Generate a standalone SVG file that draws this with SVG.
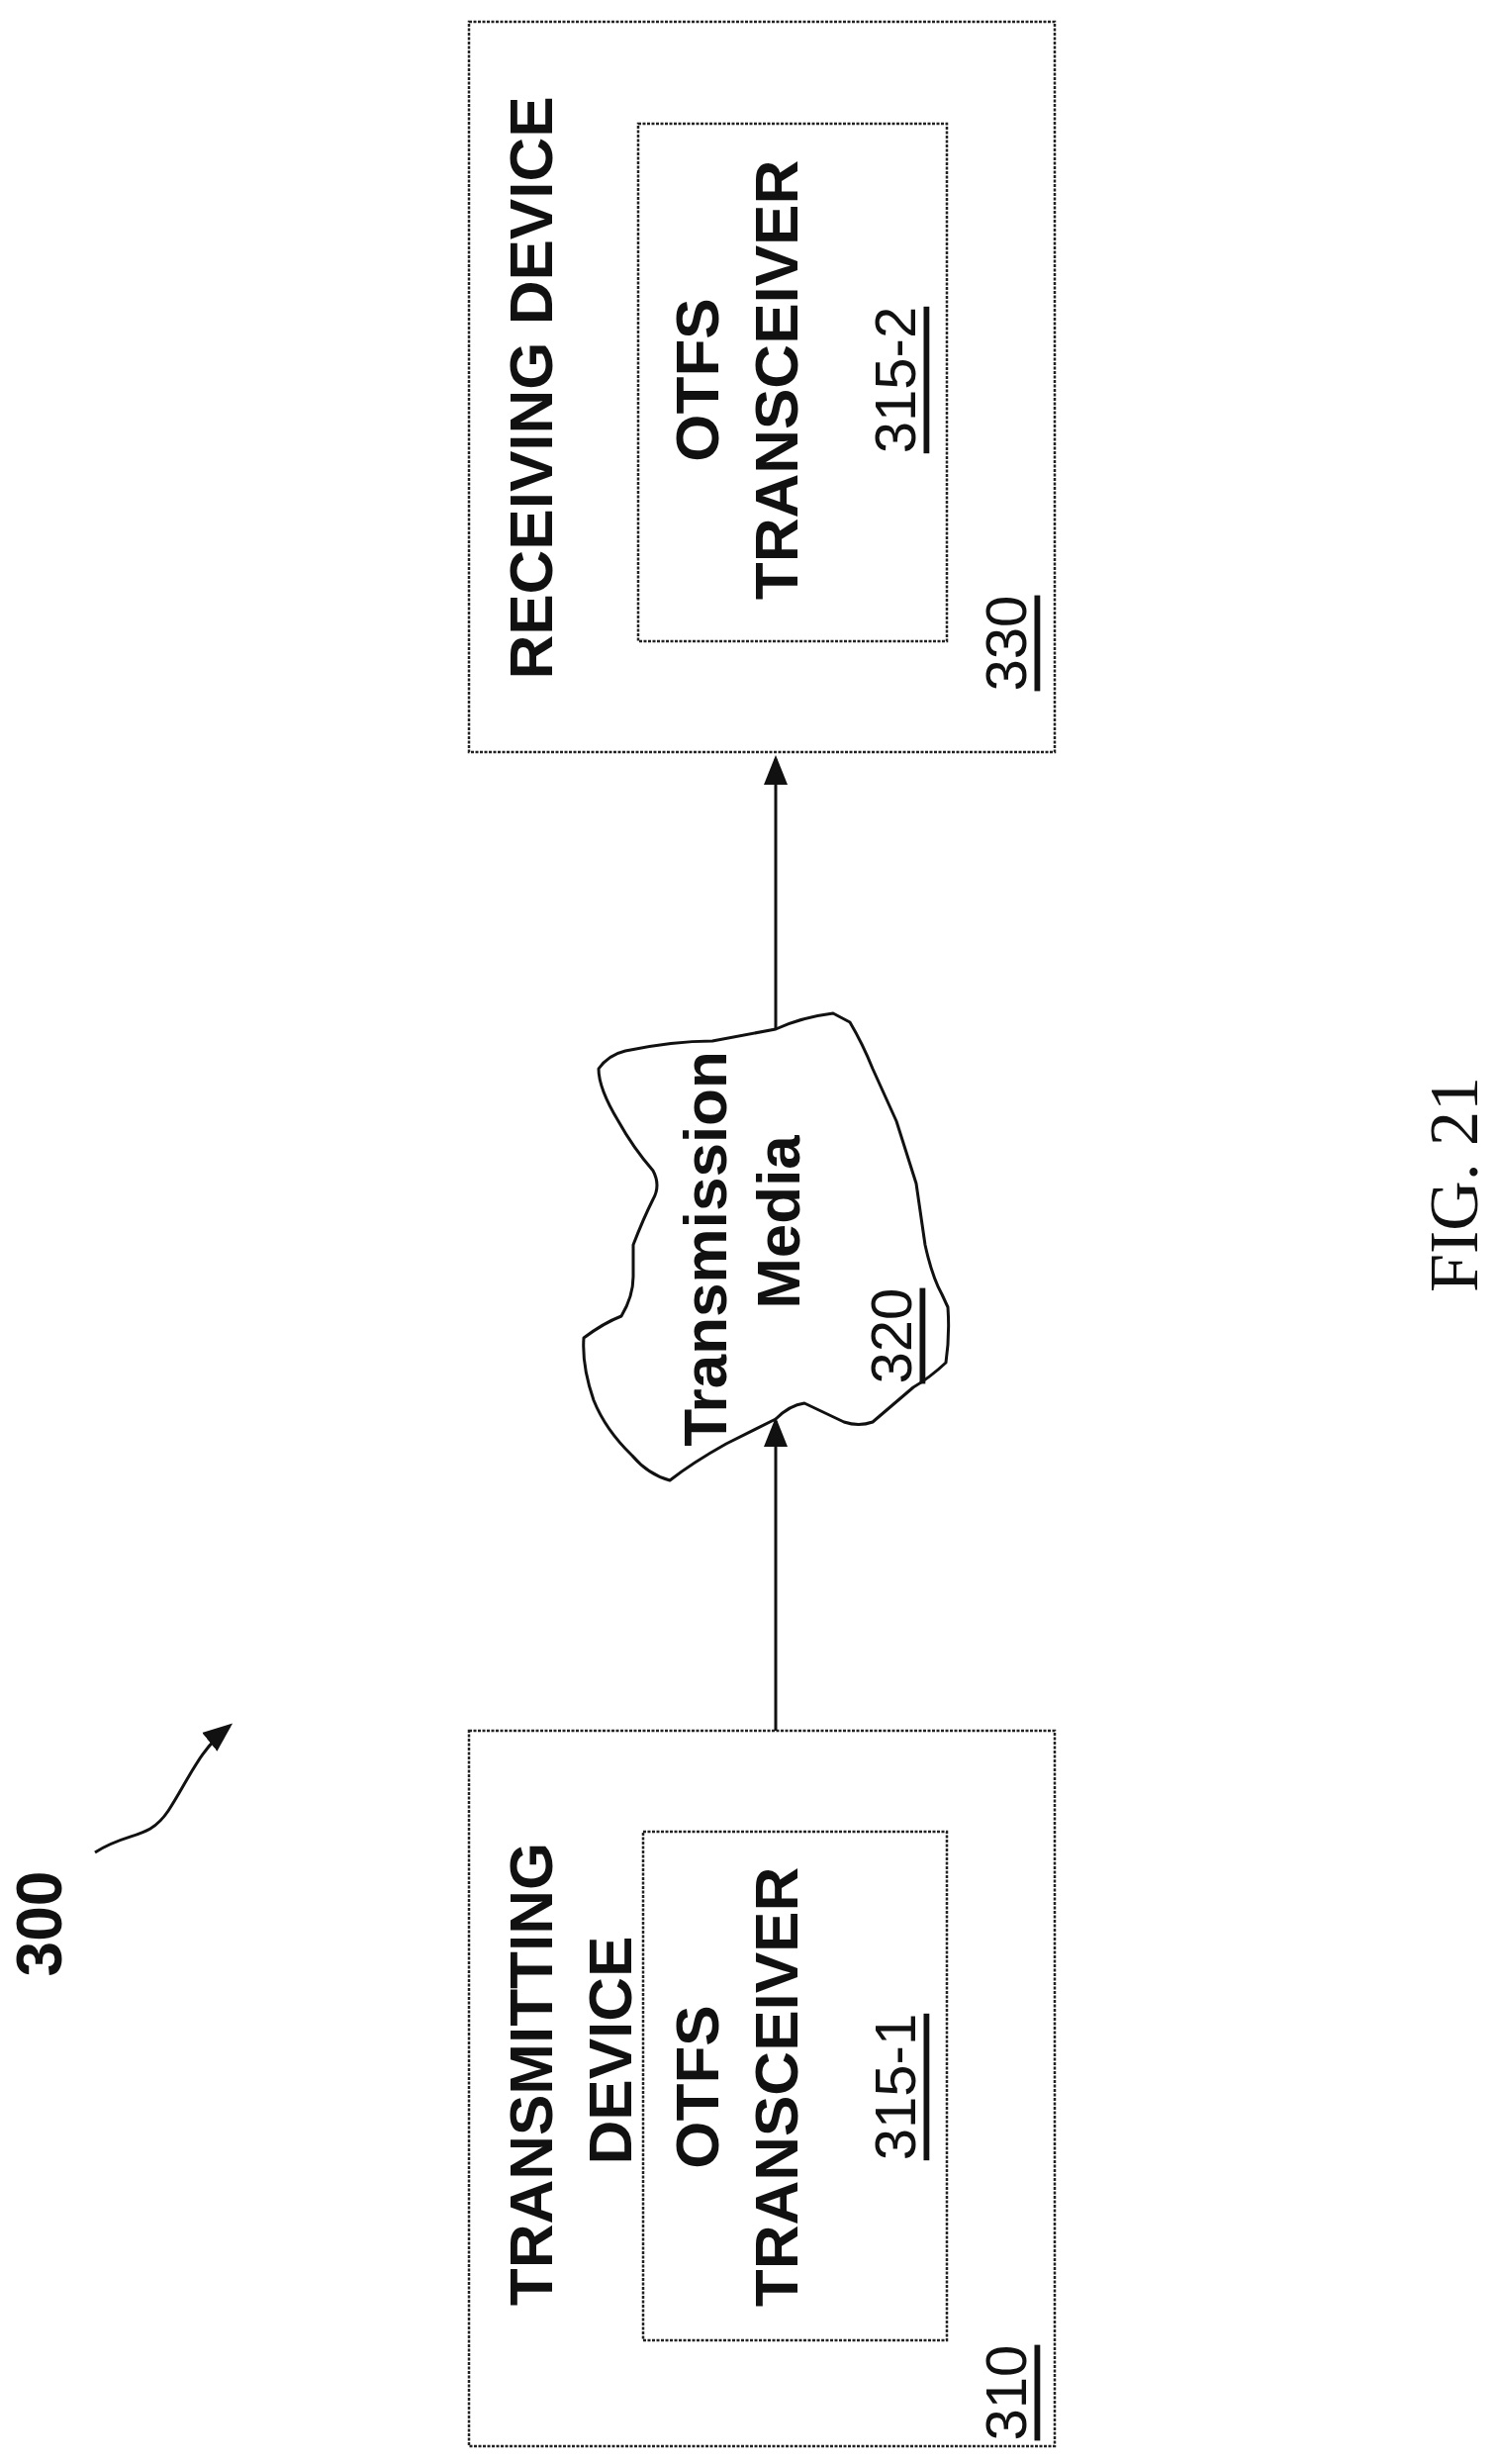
<svg xmlns="http://www.w3.org/2000/svg" width="1512" height="2490" viewBox="0 0 1512 2490">
<style>
.box{fill:none;stroke:#222;stroke-width:2.5;stroke-dasharray:3 1.5}
.t{font-family:"Liberation Sans",Arial,sans-serif;font-weight:bold;font-size:62px;fill:#111;text-anchor:middle;dominant-baseline:central}
.n{font-family:"Liberation Sans",Arial,sans-serif;font-size:58px;fill:#111;text-anchor:middle;dominant-baseline:central;text-decoration:underline}
.c{stroke:#111;stroke-width:3;fill:none}
</style>
<defs>
<marker id="ah2" markerWidth="30" markerHeight="30" refX="26" refY="15" orient="auto" markerUnits="userSpaceOnUse" viewBox="0 0 30 30"><path d="M0,3 L30,15 L0,27 z" fill="#111"/></marker></defs>
<rect width="1512" height="2490" fill="#fff"/>
<g id="tx310">
<rect class="box" x="474" y="1749" width="592" height="723"/>
<text class="t" transform="translate(536,2096) rotate(-90)">TRANSMITTING</text>
<text class="t" transform="translate(616,2072) rotate(-90)">DEVICE</text>
<text class="n" transform="translate(1016,2418) rotate(-90)">310</text>
</g>
<g id="otfs1">
<rect class="box" x="650" y="1851" width="307" height="514"/>
<text class="t" transform="translate(704,2109) rotate(-90)">OTFS</text>
<text class="t" transform="translate(784,2109) rotate(-90)">TRANSCEIVER</text>
<text class="n" transform="translate(904,2109) rotate(-90)">315-1</text>
</g>
<g id="rx330">
<rect class="box" x="474" y="22" width="592" height="738"/>
<text class="t" transform="translate(536,392) rotate(-90)">RECEIVING DEVICE</text>
<text class="n" transform="translate(1016,650) rotate(-90)">330</text>
</g>
<g id="otfs2">
<rect class="box" x="645" y="125" width="312" height="523"/>
<text class="t" transform="translate(704,384) rotate(-90)">OTFS</text>
<text class="t" transform="translate(784,384) rotate(-90)">TRANSCEIVER</text>
<text class="n" transform="translate(904,384) rotate(-90)">315-2</text>
</g>
<g id="cloud320">
<path class="c" stroke-width="2" stroke-linejoin="round" d="M784,1040 Q810,1028 842,1024 L859,1033 Q872,1055 882,1080 L906,1133 L926,1196 L935,1258 Q942,1290 952,1308 L958,1321 Q960,1350 956,1377 Q940,1392 923,1402 L882,1437 Q868,1442 853,1437 L813,1418 Q798,1420 784,1434 L734,1459 Q700,1478 677,1496 Q655,1490 639,1471 Q612,1445 600,1415 Q588,1380 590,1352 Q610,1337 628,1330 Q640,1310 640,1290 L640,1258 Q650,1232 660,1212 Q668,1198 660,1183 Q640,1160 625,1133 Q605,1100 605,1080 Q615,1066 632,1062 Q680,1052 720,1052 Z"/>
<text class="t" transform="translate(712,1262) rotate(-90)">Transmission</text>
<text class="t" transform="translate(786,1235) rotate(-90)">Media</text>
<text class="n" transform="translate(900,1350) rotate(-90)">320</text>
</g>
<g id="label300">
<text class="t" style="font-size:64px" transform="translate(40,1944) rotate(-90)">300</text>
</g>
<g id="connectors">
<line class="c" x1="784" y1="1749" x2="784" y2="1436" marker-end="url(#ah2)"/>
<line class="c" x1="784" y1="1040" x2="784" y2="767" marker-end="url(#ah2)"/>
<path class="c" stroke-width="2.5" d="M96,1872 C130,1850 150,1860 170,1830 C190,1800 200,1770 232,1744" marker-end="url(#ah2)"/>
</g>
<text transform="translate(1469,1197) rotate(-90)" style="font-family:'Liberation Serif','Times New Roman',serif;font-size:70px;fill:#111;text-anchor:middle;dominant-baseline:central">FIG. 21</text>
</svg>
